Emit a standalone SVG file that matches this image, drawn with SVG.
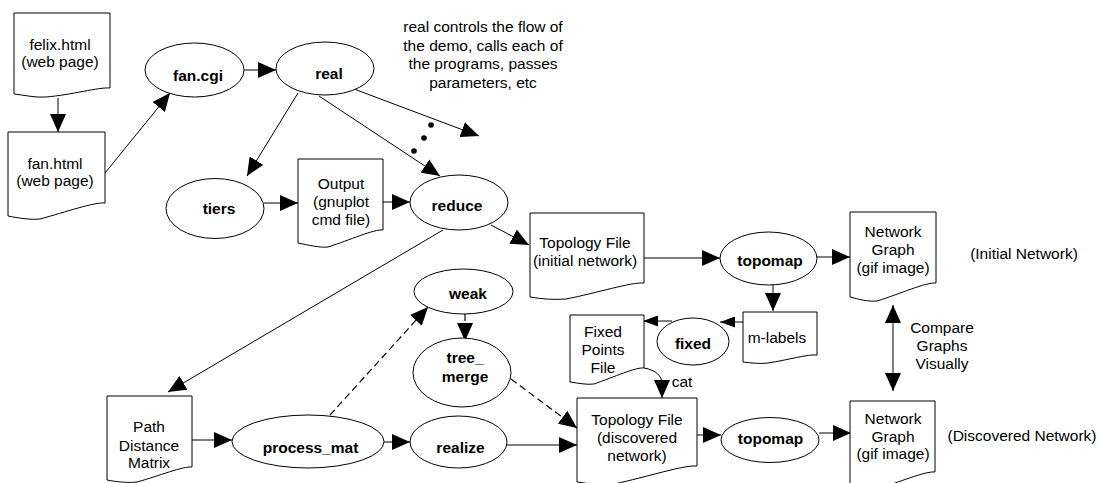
<svg xmlns="http://www.w3.org/2000/svg" width="1100" height="483" viewBox="0 0 1100 483">
<style>
.shape{fill:#fff;stroke:#000;stroke-width:1}
.t{font-family:"Liberation Sans",Arial,sans-serif;font-size:15.5px;fill:#000;text-anchor:middle}
.b{font-weight:bold}
.c{fill:none;stroke:#000;stroke-width:1}
.d{stroke-dasharray:7,4;stroke-width:1.2}
</style>
<defs>
<marker id="ah" markerUnits="userSpaceOnUse" viewBox="0 0 18 16" markerWidth="18" markerHeight="16" refX="18" refY="8" orient="auto-start-reverse"><path d="M0,0 L18,8 L0,16 z" fill="#000"/></marker>
<marker id="ahs" markerUnits="userSpaceOnUse" viewBox="0 0 15 11" markerWidth="15" markerHeight="11" refX="15" refY="5.5" orient="auto"><path d="M0,0 L15,5.5 L0,11 z" fill="#000"/></marker>
</defs>
<rect width="1100" height="483" fill="#fff"/>
<g id="connectors">
<path class="c" d="M58,98 L58,132" marker-end="url(#ah)"/>
<path class="c" d="M105,173 L170,93" marker-end="url(#ah)"/>
<path class="c" d="M244,70 L276,70" marker-end="url(#ah)"/>
<path class="c" d="M298,93 L247,176" marker-end="url(#ah)"/>
<path class="c" d="M319,96 L440,176" marker-end="url(#ah)"/>
<path class="c" d="M354,89 L479,136" marker-end="url(#ah)"/>
<path class="c" d="M264,203 L298,203" marker-end="url(#ah)"/>
<path class="c" d="M383,202 L410,202" marker-end="url(#ah)"/>
<path class="c" d="M491,225 L529,245" marker-end="url(#ah)"/>
<path class="c" d="M443,230 L168,392" marker-end="url(#ah)"/>
<path class="c" d="M644,258 L720,258" marker-end="url(#ah)"/>
<path class="c" d="M817,257 L850,257" marker-end="url(#ah)"/>
<path class="c" d="M773,285 L773,311" marker-end="url(#ah)"/>
<path class="c" d="M743,322 L720,322" marker-end="url(#ahs)"/>
<path class="c" d="M672,321 L643,321" marker-end="url(#ahs)"/>
<path class="c" d="M644,368 C656,370 662,376 662,384 L662,398" marker-end="url(#ah)"/>
<path class="c" d="M192,440 L232,440" marker-end="url(#ah)"/>
<path class="c" d="M384,442 L410,442" marker-end="url(#ah)"/>
<path class="c" d="M507,445 L577,445" marker-end="url(#ah)"/>
<path class="c d" d="M330,415 L428,307" marker-end="url(#ah)"/>
<path class="c d" d="M465,314 L465,341" marker-end="url(#ah)"/>
<path class="c d" d="M511,379 L577,428" marker-end="url(#ah)"/>
<path class="c" d="M697,435 L721,435" marker-end="url(#ah)"/>
<path class="c" d="M819,433 L851,433" marker-end="url(#ah)"/>
<path class="c" d="M893,305 L893,391" marker-start="url(#ah)" marker-end="url(#ah)"/>
<circle cx="431" cy="125" r="2.8" fill="#000"/>
<circle cx="424" cy="138" r="2.8" fill="#000"/>
<circle cx="414" cy="151" r="2.8" fill="#000"/>
<text class="t" x="682" y="387">cat</text>
</g>
<g id="felix">
<path class="shape" d="M14,13 H110 V88 C99,87 71,95 46,97 C36,98 24,95 14,94 Z"/>
<text class="t" x="60" y="50">felix.html</text>
<text class="t" x="60" y="67">(web page)</text>
</g>
<g id="fanhtml">
<path class="shape" d="M8,132 H105 V203 C94,202 66,212 40,219 C30,220 18,218 8,216 Z"/>
<text class="t" x="55" y="169">fan.html</text>
<text class="t" x="55" y="186">(web page)</text>
</g>
<g id="fancgi">
<ellipse class="shape" cx="194.5" cy="70" rx="49.5" ry="27"/>
<text class="t b" x="198" y="81">fan.cgi</text>
</g>
<g id="real">
<ellipse class="shape" cx="325" cy="68.5" rx="49" ry="26.5"/>
<text class="t b" x="329" y="79">real</text>
</g>
<g id="note">
<text class="t" x="483" y="32">real controls the flow of</text>
<text class="t" x="483" y="50.5">the demo, calls each of</text>
<text class="t" x="483" y="69">the programs, passes</text>
<text class="t" x="483" y="87.5">parameters, etc</text>
</g>
<g id="tiers">
<ellipse class="shape" cx="215" cy="208.5" rx="49" ry="30"/>
<text class="t b" x="219" y="214">tiers</text>
</g>
<g id="output">
<path class="shape" d="M298,159 H383 V230 C374,229 350,240 328,247 C320,248 308,245 298,243 Z"/>
<text class="t" x="341" y="189">Output</text>
<text class="t" x="341" y="207">(gnuplot</text>
<text class="t" x="341" y="225">cmd file)</text>
</g>
<g id="reduce">
<ellipse class="shape" cx="459" cy="202.5" rx="49" ry="27.5"/>
<text class="t b" x="457" y="211">reduce</text>
</g>
<g id="topoinit">
<path class="shape" d="M530,213 H644 V283 C631,282 597,293 566,299 C554,300 541,299 530,297 Z"/>
<text class="t" x="585" y="248">Topology File</text>
<text class="t" x="585" y="266">(initial network)</text>
</g>
<g id="topomap1">
<ellipse class="shape" cx="768.5" cy="258.5" rx="48.5" ry="26.5"/>
<text class="t b" x="770" y="266">topomap</text>
</g>
<g id="netgraph1">
<path class="shape" d="M850,212 H936 V283 C926,282 900,294 877,301 C868,302 858,299 850,297 Z"/>
<text class="t" x="893" y="237">Network</text>
<text class="t" x="893" y="255">Graph</text>
<text class="t" x="893" y="273">(gif image)</text>
</g>
<g id="initlabel">
<text class="t" x="1024" y="259">(Initial Network)</text>
</g>
<g id="mlabels">
<path class="shape" d="M743,312 H817 V355 C808,354 788,360 768,363 C760,364 751,363 743,362 Z"/>
<text class="t" x="777" y="343">m-labels</text>
</g>
<g id="fixed">
<ellipse class="shape" cx="693" cy="341.5" rx="36" ry="23.5"/>
<text class="t b" x="693" y="349">fixed</text>
</g>
<g id="fixedpoints">
<path class="shape" d="M570,315 H644 V368 C636,367 614,377 594,384 C586,385 578,383 570,382 Z"/>
<text class="t" x="603" y="337">Fixed</text>
<text class="t" x="603" y="355">Points</text>
<text class="t" x="603" y="373">File</text>
</g>
<g id="weak">
<ellipse class="shape" cx="463.5" cy="291.5" rx="49.5" ry="22.5"/>
<text class="t b" x="468" y="299">weak</text>
</g>
<g id="treemerge">
<ellipse class="shape" cx="462" cy="372.5" rx="49" ry="34.5"/>
<text class="t b" x="465" y="363">tree_</text>
<text class="t b" x="465" y="382">merge</text>
</g>
<g id="pdm">
<path class="shape" d="M107,396 H192 V467 C183,466 159,476 137,482 C129,483 117,482 107,480 Z"/>
<text class="t" x="149" y="432">Path</text>
<text class="t" x="149" y="451">Distance</text>
<text class="t" x="149" y="468">Matrix</text>
</g>
<g id="processmat">
<ellipse class="shape" cx="308" cy="441.5" rx="76" ry="26.5"/>
<text class="t b" x="310.5" y="453">process_mat</text>
</g>
<g id="realize">
<ellipse class="shape" cx="458.5" cy="442" rx="48.5" ry="26"/>
<text class="t b" x="460.5" y="453">realize</text>
</g>
<g id="topodisc">
<path class="shape" d="M577,398 H697 V466 C683,465 647,477 614,484 C602,485 589,484 577,482 Z"/>
<text class="t" x="637" y="425">Topology File</text>
<text class="t" x="637" y="443">(discovered</text>
<text class="t" x="637" y="461">network)</text>
</g>
<g id="topomap2">
<ellipse class="shape" cx="770" cy="440" rx="49" ry="22.5"/>
<text class="t b" x="770.5" y="444">topomap</text>
</g>
<g id="netgraph2">
<path class="shape" d="M850,401 H935 V472 C925,471 900,482 877,489 C868,490 858,488 850,486 Z"/>
<text class="t" x="893" y="424">Network</text>
<text class="t" x="893" y="442">Graph</text>
<text class="t" x="893" y="459">(gif image)</text>
</g>
<g id="disclabel">
<text class="t" x="1022" y="441">(Discovered Network)</text>
</g>
<g id="compare">
<text class="t" x="942" y="333">Compare</text>
<text class="t" x="942" y="351">Graphs</text>
<text class="t" x="942" y="369">Visually</text>
</g>
</svg>
